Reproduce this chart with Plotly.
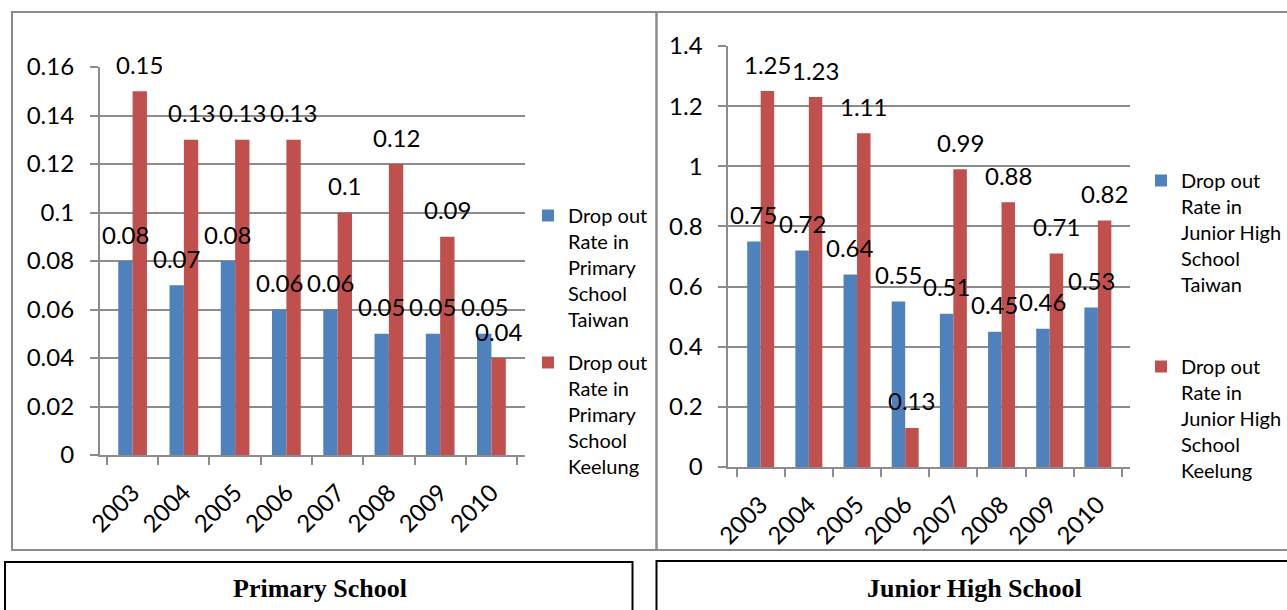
import plotly.graph_objects as go

# Drop-out rates (%) by year
years = ["2003", "2004", "2005", "2006", "2007", "2008", "2009", "2010"]
primary_taiwan = [0.08, 0.07, 0.08, 0.06, 0.06, 0.05, 0.05, 0.05]
primary_keelung = [0.15, 0.13, 0.13, 0.13, 0.10, 0.12, 0.09, 0.04]
junior_taiwan = [0.75, 0.72, 0.64, 0.55, 0.51, 0.45, 0.46, 0.53]
junior_keelung = [1.25, 1.23, 1.11, 0.13, 0.99, 0.88, 0.71, 0.82]

primary_names = ["Drop out<br>Rate in<br>Primary<br>School<br>Taiwan",
                 "Drop out<br>Rate in<br>Primary<br>School<br>Keelung"]
junior_names = ["Drop out<br>Rate in<br>Junior High<br>School<br>Taiwan",
                "Drop out<br>Rate in<br>Junior High<br>School<br>Keelung"]
captions = ["Primary School", "Junior High School"]

W, H = 1287, 610
BLUE, RED = "#4F81BD", "#C0504D"
GRID = "#8c8c8c"
FONT = "Lato"
BARGAP = 0.44


def px(x):
    return x / W


def py(y):
    return 1 - y / H


fig = go.Figure()

panels = [
    dict(series=(primary_taiwan, primary_keelung), names=primary_names,
         xa="x", ya="y", legend="legend"),
    dict(series=(junior_taiwan, junior_keelung), names=junior_names,
         xa="x2", ya="y2", legend="legend2"),
]

for p in panels:
    for k, (vals, color) in enumerate(zip(p["series"], (BLUE, RED))):
        fig.add_trace(go.Bar(
            x=years, y=vals, name=p["names"][k], marker_color=color,
            marker_line_width=0, xaxis=p["xa"], yaxis=p["ya"],
            legend=p["legend"], legendgroup=f'{p["legend"]}{k}',
        ))
        # value labels centred above each bar of the group
        off = (1 - BARGAP) / 4 * (-1 if k == 0 else 1)
        for i, v in enumerate(vals):
            fig.add_annotation(
                x=i + off, y=v, xref=p["xa"], yref=p["ya"],
                text=f"{v:g}", showarrow=False, yanchor="middle", yshift=27,
                font=dict(family=FONT, size=24, color="black"),
            )

axis_common = dict(showline=True, linecolor=GRID, linewidth=2,
                   ticks="outside", ticklen=8, tickwidth=2, tickcolor=GRID,
                   automargin=False,
                   tickfont=dict(family=FONT, size=24, color="black"))

fig.update_layout(
    width=W, height=H,
    margin=dict(l=0, r=0, t=0, b=0, pad=0),
    paper_bgcolor="white", plot_bgcolor="white",
    barmode="group", bargap=BARGAP, bargroupgap=0,
    xaxis=dict(domain=[px(100), px(525)], anchor="y", type="category",
               tickson="boundaries", tickangle=-45, showgrid=False,
               ticklabelstandoff=12, **axis_common),
    yaxis=dict(domain=[py(455), py(67)], anchor="x", range=[0, 0.16],
               dtick=0.02, showgrid=True, gridcolor=GRID, gridwidth=2,
               zeroline=False, ticklabelstandoff=11, **axis_common),
    xaxis2=dict(domain=[px(729), px(1131)], anchor="y2", type="category",
                tickson="boundaries", tickangle=-45, showgrid=False,
                ticklabelstandoff=12, **axis_common),
    yaxis2=dict(domain=[py(467), py(46)], anchor="x2", range=[0, 1.4],
                dtick=0.2, showgrid=True, gridcolor=GRID, gridwidth=2,
                zeroline=False, ticklabelstandoff=11, **axis_common),
    legend=dict(x=px(528), y=py(196), xanchor="left", yanchor="top",
                valign="top", tracegroupgap=14, bgcolor="rgba(0,0,0,0)",
                font=dict(family=FONT, size=20, color="black")),
    legend2=dict(x=px(1142), y=py(161), xanchor="left", yanchor="top",
                 valign="top", tracegroupgap=53, bgcolor="rgba(0,0,0,0)",
                 font=dict(family=FONT, size=20, color="black")),
    showlegend=True,
)

# chart frames
fig.add_shape(type="rect", xref="paper", yref="paper",
              x0=px(12), x1=px(657), y0=py(550), y1=py(12),
              line=dict(color=GRID, width=2))
fig.add_shape(type="rect", xref="paper", yref="paper",
              x0=px(657), x1=px(1300), y0=py(550), y1=py(12),
              line=dict(color=GRID, width=2))

# caption boxes
fig.add_shape(type="rect", xref="paper", yref="paper",
              x0=px(5), x1=px(633), y0=py(620), y1=py(562),
              line=dict(color="black", width=2))
fig.add_shape(type="rect", xref="paper", yref="paper",
              x0=px(657), x1=px(1300), y0=py(620), y1=py(561),
              line=dict(color="black", width=2))
for cx, text in zip((320, 975), captions):
    fig.add_annotation(x=px(cx), y=py(588), xref="paper", yref="paper",
                       xanchor="center", yanchor="middle",
                       text=f"<b>{text}</b>", showarrow=False,
                       font=dict(family="Liberation Serif", size=26,
                                 color="black"))

fig.write_html("out.html")
